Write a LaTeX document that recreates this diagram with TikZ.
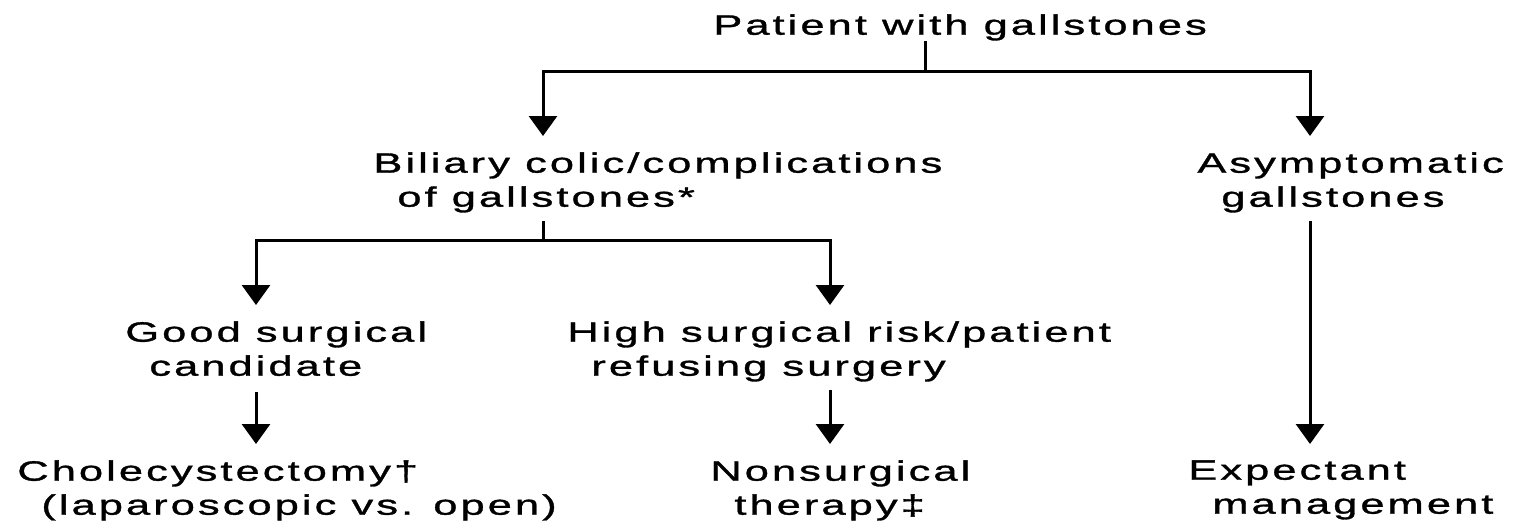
\documentclass[tikz,border=0pt]{standalone}
\usepackage{fontspec}
\setmainfont{Liberation Sans}[FakeStretch=1.55,LetterSpace=11,FakeBold=1.2]
\usetikzlibrary{arrows.meta}
\newcommand{\ind}{\hspace*{12pt}}

\begin{document}
\begin{tikzpicture}[x=0.5pt,y=-0.5pt,
    txt/.style={anchor=north west,inner sep=0pt,align=left,font=\fontsize{14}{17}\selectfont},
    link/.style={line width=1.5pt},
    stem/.style={link,shorten <=4pt},
    arr/.style={-{Triangle[width=14pt,length=10pt]},shorten >=8pt}]
    \useasboundingbox (0,0) rectangle (1522,520);

    % text rows
    \node[txt] (pat) at (713,14) {Patient with gallstones};
    \node[txt] (bil) at (373,152) {Biliary colic/complications\\\ind of gallstones*};
    \node[txt] (asym) at (1197,152) {Asymptomatic\\\ind gallstones};
    \node[txt] (good) at (125,321) {Good surgical\\\ind candidate};
    \node[txt] (high) at (567,321) {High surgical risk/patient\\\ind refusing surgery};
    \node[txt] (chole) at (17,460) {Cholecystectomy†\\\ind (laparoscopic vs. open)};
    \node[txt] (nons) at (710,460) {Nonsurgical\\\ind therapy‡};
    \node[txt] (expt) at (1188,460) {Expectant\\\ind management};

    % columns and junctions
    \coordinate (c1) at (256,0);
    \coordinate (c2) at (830,0);
    \coordinate (c3) at (1310,0);
    \coordinate (j0) at (925,71);
    \coordinate (j1) at (543,240);

    \draw[link] (pat.south -| j0) -- (j0);
    \draw[link,arr] (j0) -| (j1 |- bil.north);
    \draw[link,arr] (j0) -| (c3 |- asym.north);

    \draw[stem] (bil.south -| j1) -- (j1);
    \draw[link,arr] (j1) -| (c1 |- good.north);
    \draw[link,arr] (j1) -| (c2 |- high.north);

    \draw[stem,arr,shorten <=8pt] (good.south -| c1) -- (c1 |- chole.north);
    \draw[stem,arr] (high.south -| c2) -- (c2 |- nons.north);
    \draw[stem,arr] (asym.south -| c3) -- (c3 |- expt.north);
\end{tikzpicture}
\end{document}
